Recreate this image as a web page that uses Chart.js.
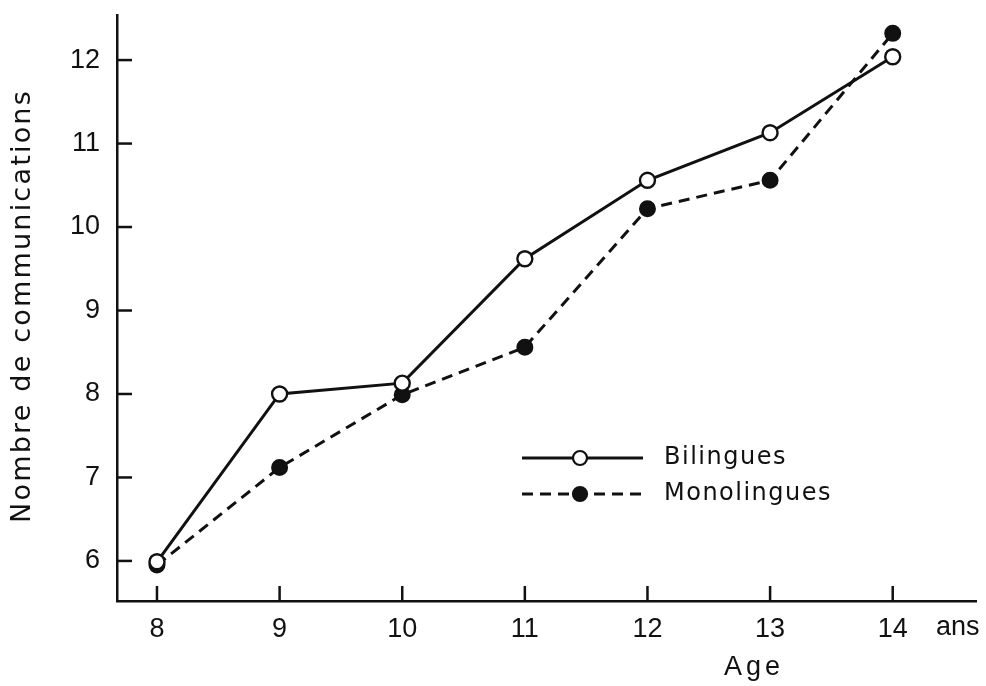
<!DOCTYPE html>
<html>
<head>
<meta charset="utf-8">
<script src="https://cdn.jsdelivr.net/npm/chart.js@4/dist/chart.umd.min.js"></script>
<style>
html,body{margin:0;padding:0;background:#fff;}
#wrap{width:986px;height:686px;}
</style>
</head>
<body>
<div id="wrap"><canvas id="c" width="986" height="686"></canvas></div>
<script>
const ages = [8, 9, 10, 11, 12, 13, 14];
const bilingues = [5.99, 8.0, 8.13, 9.62, 10.56, 11.13, 12.04];
const monolingues = [5.95, 7.12, 7.99, 8.56, 10.22, 10.56, 12.32];
const yTicks = [6, 7, 8, 9, 10, 11, 12];
const seriesNames = ['Bilingues', 'Monolingues'];
const yTitle = 'Nombre de communications';
const xTitle = 'Age';
const xUnit = 'ans';

const TICKFONT = '"Liberation Sans", Arial, sans-serif';
const TXTFONT = '"DejaVu Sans", sans-serif';
const INK = '#111';

const decor = {
  id: 'decor',
  afterDraw(chart) {
    const ctx = chart.ctx;
    const xs = chart.scales.x, ys = chart.scales.y;
    ctx.save();
    ctx.strokeStyle = INK;
    ctx.lineWidth = 2.5;
    // inner tick marks
    ages.forEach(v => {
      const px = xs.getPixelForValue(v);
      ctx.beginPath(); ctx.moveTo(px, xs.top); ctx.lineTo(px, xs.top - 15); ctx.stroke();
    });
    yTicks.forEach(v => {
      const py = ys.getPixelForValue(v);
      ctx.beginPath(); ctx.moveTo(ys.right, py); ctx.lineTo(ys.right + 15, py); ctx.stroke();
    });
    ctx.fillStyle = INK;
    // unit and axis titles
    ctx.font = '27px ' + TICKFONT;
    ctx.textBaseline = 'middle';
    ctx.textAlign = 'left';
    ctx.fillText(xUnit, 936, 628);
    ctx.letterSpacing = '4px';
    ctx.textAlign = 'center';
    ctx.textBaseline = 'alphabetic';
    ctx.fillText(xTitle, 754, 675);
    ctx.save();
    ctx.translate(23, 306);
    ctx.rotate(-Math.PI / 2);
    ctx.font = '27px ' + TXTFONT;
    ctx.letterSpacing = '2.2px';
    ctx.textBaseline = 'middle';
    ctx.fillText(yTitle, 0, 0);
    ctx.restore();
    // legend
    const ds = chart.data.datasets;
    const rows = [458, 494];
    ctx.font = '24px ' + TXTFONT;
    ctx.letterSpacing = '1.5px';
    ctx.textBaseline = 'middle';
    ds.forEach((d, i) => {
      const y = rows[i];
      ctx.setLineDash(d.borderDash || []);
      ctx.lineWidth = d.borderWidth;
      ctx.beginPath(); ctx.moveTo(522, y); ctx.lineTo(643, y); ctx.stroke();
      ctx.setLineDash([]);
      ctx.beginPath(); ctx.arc(580, y, 7, 0, Math.PI * 2);
      ctx.fillStyle = d.pointBackgroundColor; ctx.fill();
      ctx.lineWidth = 2.2; ctx.stroke();
      ctx.fillStyle = INK;
      ctx.textAlign = 'left';
      ctx.fillText(d.label, 664, y);
    });
    ctx.restore();
  }
};

new Chart(document.getElementById('c'), {
  type: 'line',
  data: {
    datasets: [
      {
        label: seriesNames[0],
        data: ages.map((a, i) => ({x: a, y: bilingues[i]})),
        borderColor: INK, borderWidth: 3,
        pointBackgroundColor: '#fff', pointBorderColor: INK, pointBorderWidth: 2.4,
        pointRadius: 7.5, tension: 0, clip: false
      },
      {
        label: seriesNames[1],
        data: ages.map((a, i) => ({x: a, y: monolingues[i]})),
        borderColor: INK, borderWidth: 3, borderDash: [11, 7],
        pointBackgroundColor: INK, pointBorderColor: INK, pointBorderWidth: 2,
        pointRadius: 7.5, tension: 0, clip: false
      }
    ]
  },
  options: {
    responsive: false,
    animation: false,
    layout: {padding: {top: 15, right: 9, left: 0, bottom: 0}},
    plugins: {legend: {display: false}, tooltip: {enabled: false}},
    scales: {
      x: {
        type: 'linear', min: 7.674, max: 14.68,
        afterBuildTicks: s => { s.ticks = ages.map(v => ({value: v})); },
        afterFit: s => { s.height = 85; s.paddingLeft = 0; s.paddingRight = 0; },
        grid: {display: false, drawTicks: false},
        border: {display: true, color: INK, width: 2.5},
        ticks: {font: {family: TICKFONT, size: 27}, color: INK, padding: 12, maxRotation: 0}
      },
      y: {
        type: 'linear', min: 5.52, max: 12.54,
        afterBuildTicks: s => { s.ticks = yTicks.map(v => ({value: v})); },
        afterFit: s => { s.width = 117; s.paddingTop = 0; s.paddingBottom = 0; },
        grid: {display: false, drawTicks: false},
        border: {display: true, color: INK, width: 2.5},
        ticks: {font: {family: TICKFONT, size: 27}, color: INK, padding: 17}
      }
    }
  },
  plugins: [decor]
});
</script>
</body>
</html>
